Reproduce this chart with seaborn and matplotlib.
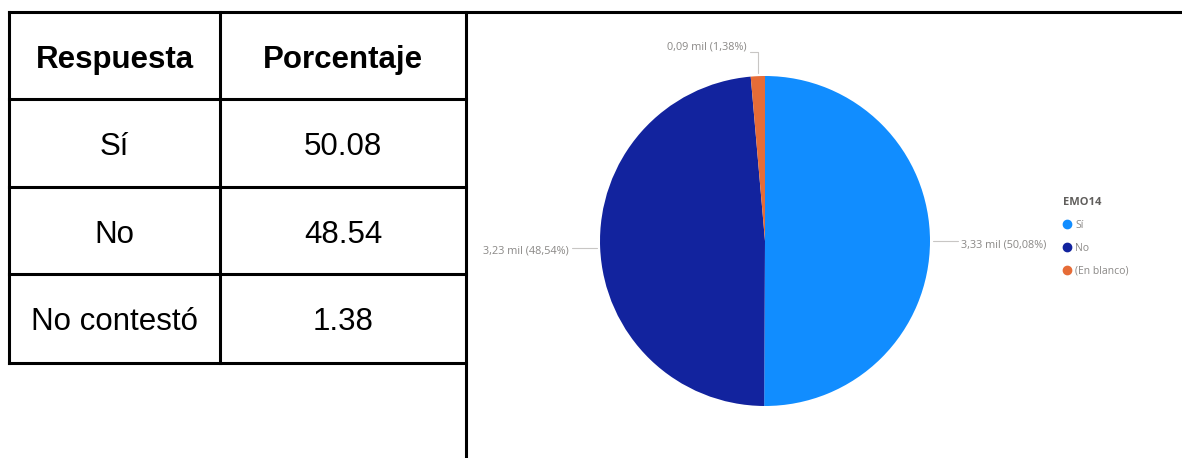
import matplotlib
matplotlib.use("Agg")
import matplotlib.pyplot as plt
from matplotlib.lines import Line2D
import numpy as np
import seaborn as sns

# datos
respuestas = ["Sí", "No", "No contestó"]
porcentajes = [50.08, 48.54, 1.38]
encabezados = ["Respuesta", "Porcentaje"]
leyenda = ["Sí", "No", "(En blanco)"]
miles = [3.33, 3.23, 0.09]
titulo_leyenda = "EMO14"
colores = ["#118DFF", "#12239E", "#E66C37"]

sns.set_theme(style="white")
plt.rcParams["font.family"] = ["Liberation Sans", "DejaVu Sans"]

W, H = 1182, 458
fig = plt.figure(figsize=(W / 100, H / 100), dpi=100)
bg = fig.add_axes([0, 0, 1, 1])
bg.set_xlim(0, W)
bg.set_ylim(H, 0)
bg.axis("off")

# tabla
lw = 2.2
xs = [9, 220, 466]
ys = [12, 99, 187, 274, 363]
bg.plot([xs[0], W], [ys[0], ys[0]], color="black", lw=lw, solid_capstyle="projecting")
for y in ys[1:]:
    bg.plot([xs[0], xs[2]], [y, y], color="black", lw=lw, solid_capstyle="projecting")
bg.plot([xs[0], xs[0]], [ys[0], ys[-1]], color="black", lw=lw, solid_capstyle="projecting")
bg.plot([xs[1], xs[1]], [ys[0], ys[-1]], color="black", lw=lw, solid_capstyle="projecting")
bg.plot([xs[2], xs[2]], [ys[0], H], color="black", lw=lw, solid_capstyle="projecting")

cx = [(xs[0] + xs[1]) / 2, (xs[1] + xs[2]) / 2]
fs = 22.5
for j, h in enumerate(encabezados):
    bg.text(cx[j], 68, h, ha="center", va="baseline", fontsize=fs, fontweight="bold", color="black")
for i, (r, p) in enumerate(zip(respuestas, porcentajes)):
    base = ys[i + 1] + 68 - 12
    bg.text(cx[0], base, r, ha="center", va="baseline", fontsize=fs, color="black")
    bg.text(cx[1], base, f"{p:.2f}", ha="center", va="baseline", fontsize=fs, color="black")

# pastel
pcx, pcy, rad = 765, 241, 165
ax = fig.add_axes([(pcx - rad) / W, (H - pcy - rad) / H, 2 * rad / W, 2 * rad / H])
wedges, _ = ax.pie(porcentajes, colors=colores, startangle=90, counterclock=False,
                   wedgeprops=dict(linewidth=0))
ax.set_xlim(-1, 1)
ax.set_ylim(-1, 1)
ax.set_aspect("equal")
ax.axis("off")

gris = "#8a8886"
lab_font = ["Open Sans", "DejaVu Sans"]
for w, m, p in zip(wedges, miles, porcentajes):
    ang = np.deg2rad((w.theta1 + w.theta2) / 2)
    ex, ey = np.cos(ang), np.sin(ang)
    txt = f"{m:.2f} mil ({p:.2f}%)".replace(".", ",")
    if abs(ex) > 0.5:
        sgn = np.sign(ex)
        ax.plot([ex * 1.02, sgn * 1.17], [ey, ey], color="#c8c6c4", lw=0.8, clip_on=False)
        ax.text(sgn * 1.19, ey - 0.02, txt, ha="left" if sgn > 0 else "right", va="center",
                fontsize=7.8, color=gris, family=lab_font)
    else:
        ax.plot([ex, ex, ex - 0.05], [ey * 1.02, 1.145, 1.145], color="#c8c6c4", lw=0.8, clip_on=False)
        ax.text(ex - 0.07, 1.175, txt, ha="right", va="center",
                fontsize=7.8, color=gris, family=lab_font)

# leyenda
handles = [Line2D([], [], marker="o", linestyle="", markersize=6, color=c) for c in colores]
leg = fig.legend(handles, leyenda, title=titulo_leyenda, loc="upper left",
                 bbox_to_anchor=(1063 / W, 1 - 197 / H), frameon=False,
                 labelspacing=1.15, handlelength=0.8, handletextpad=0.35,
                 borderpad=0, borderaxespad=0, alignment="left",
                 prop={"family": lab_font, "size": 7.5})
for t in leg.get_texts():
    t.set_color(gris)
title = leg.get_title()
title.set_color("#605e5c")
title.set_fontweight("bold")
title.set_family(lab_font)
title.set_fontsize(8)

fig.savefig("out.png", dpi=100)
